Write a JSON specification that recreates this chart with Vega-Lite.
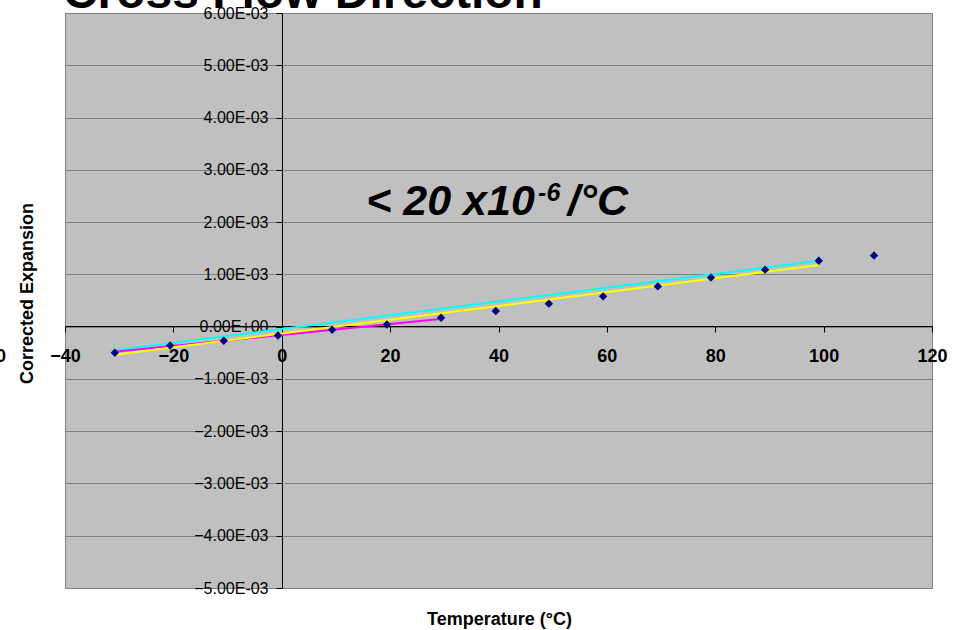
{
  "$schema": "https://vega.github.io/schema/vega-lite/v6.json",
  "width": 867,
  "height": 575,
  "autosize": {"type": "none"},
  "padding": {"left": 65, "top": 13, "right": 21, "bottom": 42},
  "background": "white",
  "config": {
    "font": "Liberation Sans",
    "view": {"fill": "#C0C0C0", "stroke": "#808080", "strokeWidth": 1}
  },
  "datasets": {
    "measured": [
      {"temp": -30.8, "expansion": -0.00050},
      {"temp": -20.6, "expansion": -0.00036},
      {"temp": -10.7, "expansion": -0.00027},
      {"temp": -0.7, "expansion": -0.00017},
      {"temp": 9.3, "expansion": -0.00006},
      {"temp": 19.4, "expansion": 0.00004},
      {"temp": 29.4, "expansion": 0.00017},
      {"temp": 39.5, "expansion": 0.00030},
      {"temp": 49.3, "expansion": 0.00044},
      {"temp": 59.3, "expansion": 0.00058},
      {"temp": 69.4, "expansion": 0.00077},
      {"temp": 79.2, "expansion": 0.00094},
      {"temp": 89.2, "expansion": 0.00109},
      {"temp": 99.1, "expansion": 0.00126},
      {"temp": 109.3, "expansion": 0.00136}
    ],
    "fits": [
      {"fit": "Fit A", "temp": -30.8, "expansion": -0.00045},
      {"fit": "Fit A", "temp": 99.1, "expansion": 0.00126},
      {"fit": "Fit B", "temp": -30.8, "expansion": -0.00048},
      {"fit": "Fit B", "temp": 29.2, "expansion": 0.000147},
      {"fit": "Fit C", "temp": -30.8, "expansion": -0.00054},
      {"fit": "Fit C", "temp": 99.1, "expansion": 0.00118}
    ],
    "title_text": [{"temp": -40.4, "expansion": 0.00609, "label": "Cross Flow Direction"}],
    "edge_label": [{"temp": -50.9, "expansion": -0.00068, "label": "0"}],
    "note_main": [{"temp": 15.6, "expansion": 0.00213, "label": "< 20 x10"}],
    "note_sup": [{"temp": 47.3, "expansion": 0.00241, "label": "-6"}],
    "note_unit": [{"temp": 52.8, "expansion": 0.00213, "label": "/°C"}]
  },
  "layer": [
    {
      "data": {"name": "fits"},
      "mark": {"type": "line", "strokeWidth": 2},
      "encoding": {
        "x": {
          "field": "temp",
          "type": "quantitative",
          "scale": {"domain": [-40, 120], "nice": false, "zero": false},
          "axis": {
            "orient": "bottom",
            "offset": -262,
            "values": [-40, -20, 0, 20, 40, 60, 80, 100, 120],
            "grid": false,
            "domainColor": "black",
            "domainWidth": 1,
            "tickColor": "black",
            "tickSize": 6,
            "labelFont": "Liberation Sans",
            "labelFontSize": 18,
            "labelFontWeight": 700,
            "labelColor": "black",
            "labelPadding": 15,
            "labelFlush": false,
            "labelOverlap": false,
            "title": "Temperature (°C)",
            "titleFont": "Liberation Sans",
            "titleFontSize": 18,
            "titleFontWeight": 700,
            "titleColor": "black",
            "titleX": 434,
            "titleY": 298,
            "titleAlign": "center",
            "titleBaseline": "alphabetic"
          }
        },
        "y": {
          "field": "expansion",
          "type": "quantitative",
          "scale": {"domain": [-0.005, 0.006], "nice": false, "zero": false},
          "axis": {
            "orient": "left",
            "offset": -217,
            "values": [-0.005, -0.004, -0.003, -0.002, -0.001, 0, 0.001, 0.002, 0.003, 0.004, 0.005, 0.006],
            "grid": true,
            "gridColor": "#808080",
            "gridWidth": 1,
            "domainColor": "black",
            "domainWidth": 1,
            "tickColor": "black",
            "tickSize": 6,
            "labelFont": "Liberation Sans",
            "labelFontSize": 16,
            "labelColor": "black",
            "labelPadding": 8,
            "labelOverlap": false,
            "labelExpr": "replace(replace(format(datum.value, '.2e'), 'e-', 'E-0'), 'e+', 'E+0')",
            "title": "Corrected Expansion",
            "titleFont": "Liberation Sans",
            "titleFontSize": 18,
            "titleFontWeight": 700,
            "titleColor": "black",
            "titleAngle": -90,
            "titleX": -255,
            "titleY": 280,
            "titleAlign": "center",
            "titleBaseline": "middle"
          }
        },
        "color": {
          "field": "fit",
          "type": "nominal",
          "scale": {"domain": ["Fit A", "Fit B", "Fit C"], "range": ["#00FFFF", "#FF00FF", "#FFFF00"]},
          "legend": null
        }
      }
    },
    {
      "data": {"name": "measured"},
      "mark": {"type": "point", "shape": "diamond", "filled": true, "size": 70, "color": "#000080", "opacity": 1},
      "encoding": {
        "x": {"field": "temp", "type": "quantitative"},
        "y": {"field": "expansion", "type": "quantitative"}
      }
    },
    {
      "data": {"name": "title_text"},
      "mark": {"type": "text", "align": "left", "baseline": "alphabetic", "fontSize": 48, "fontWeight": 700, "color": "black", "font": "Liberation Sans"},
      "encoding": {
        "x": {"field": "temp", "type": "quantitative"},
        "y": {"field": "expansion", "type": "quantitative"},
        "text": {"field": "label"}
      }
    },
    {
      "data": {"name": "edge_label"},
      "mark": {"type": "text", "align": "right", "baseline": "alphabetic", "fontSize": 18, "fontWeight": 700, "color": "black", "font": "Liberation Sans"},
      "encoding": {
        "x": {"field": "temp", "type": "quantitative"},
        "y": {"field": "expansion", "type": "quantitative"},
        "text": {"field": "label"}
      }
    },
    {
      "data": {"name": "note_main"},
      "mark": {"type": "text", "align": "left", "baseline": "alphabetic", "fontSize": 43, "fontWeight": 700, "fontStyle": "italic", "color": "black", "font": "Liberation Sans"},
      "encoding": {
        "x": {"field": "temp", "type": "quantitative"},
        "y": {"field": "expansion", "type": "quantitative"},
        "text": {"field": "label"}
      }
    },
    {
      "data": {"name": "note_sup"},
      "mark": {"type": "text", "align": "left", "baseline": "alphabetic", "fontSize": 25, "fontWeight": 700, "fontStyle": "italic", "color": "black", "font": "Liberation Sans"},
      "encoding": {
        "x": {"field": "temp", "type": "quantitative"},
        "y": {"field": "expansion", "type": "quantitative"},
        "text": {"field": "label"}
      }
    },
    {
      "data": {"name": "note_unit"},
      "mark": {"type": "text", "align": "left", "baseline": "alphabetic", "fontSize": 43, "fontWeight": 700, "fontStyle": "italic", "color": "black", "font": "Liberation Sans"},
      "encoding": {
        "x": {"field": "temp", "type": "quantitative"},
        "y": {"field": "expansion", "type": "quantitative"},
        "text": {"field": "label"}
      }
    }
  ]
}
